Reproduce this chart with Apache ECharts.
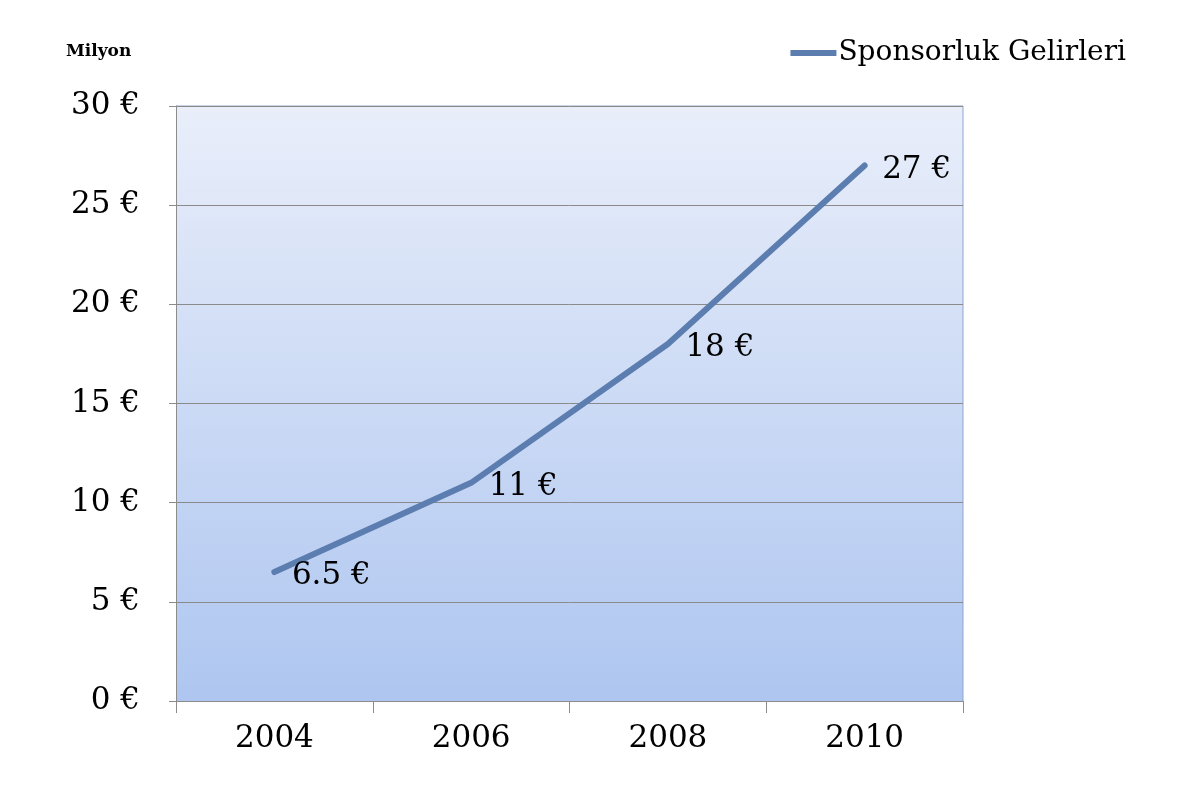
<!DOCTYPE html>
<html><head><meta charset="utf-8">
<script src="https://cdn.jsdelivr.net/npm/echarts@6/dist/echarts.min.js"></script>
<style>html,body{margin:0;padding:0;background:#fff}#c{width:1191px;height:804px}</style>
</head><body><div id="c"></div>
<script>
const categories = ['2004', '2006', '2008', '2010'];
const seriesName = 'Sponsorluk Gelirleri';
const values = [6.5, 11, 18, 27];
const unitLabel = 'Milyon';

const FONT = '"DejaVu Serif", serif';
const chart = echarts.init(document.getElementById('c'));
chart.setOption({
  backgroundColor: '#ffffff',
  animation: false,
  title: {
    text: unitLabel, left: 61, top: 38,
    textStyle: { fontFamily: FONT, fontSize: 17, fontWeight: 'bold', color: '#000' }
  },
  legend: {
    right: 60, top: 34,
    itemWidth: 46, itemHeight: 14, itemGap: 4,
    data: [{ name: seriesName, icon: 'path://M0,0 L46,0 L46,6 L0,6 Z', itemStyle: { color: '#5B7DAF', opacity: 1 } }],
    textStyle: { fontFamily: FONT, fontSize: 28, color: '#000', padding: [0,0,0,-3] }
  },
  grid: { left: 176, right: 228, top: 106, bottom: 103, show: true, borderWidth: 0,
    backgroundColor: new echarts.graphic.LinearGradient(0, 0, 0, 1, [
      { offset: 0, color: '#E9EEFA' }, { offset: 1, color: '#AEC6F0' }
    ]) },
  xAxis: {
    type: 'category', data: categories, boundaryGap: true,
    axisLine: { lineStyle: { color: '#8c8c8c', width: 1 } },
    axisTick: { show: true, length: 12, lineStyle: { color: '#8c8c8c' } },
    axisLabel: { fontFamily: FONT, fontSize: 31, color: '#000', margin: 22 },
    splitLine: { show: false }
  },
  yAxis: {
    type: 'value', min: 0, max: 30, interval: 5,
    axisLine: { show: true, lineStyle: { color: '#8c8c8c', width: 1 } },
    axisTick: { show: true, length: 7, lineStyle: { color: '#8c8c8c' } },
    axisLabel: { fontFamily: FONT, fontSize: 31, color: '#000', margin: 36, formatter: v => v + ' €' },
    splitLine: { show: true, lineStyle: { color: '#8a8a8a', width: 1 } }
  },
  series: [{
    name: seriesName, type: 'line', data: values,
    symbol: 'circle', symbolSize: 1, showSymbol: true, smooth: false,
    lineStyle: { color: '#5B7DAF', width: 6, cap: 'round' },
    itemStyle: { color: '#5B7DAF' },
    label: { show: true, position: 'right', distance: 17, offset: [0, 4],
      fontFamily: FONT, fontSize: 31, color: '#000', formatter: p => p.value + ' €' }
  }],
  graphic: [
    { type: 'line', shape: { x1: 176, y1: 106, x2: 963, y2: 106 }, style: { stroke: '#8FA6CF', lineWidth: 1 } },
    { type: 'line', shape: { x1: 963, y1: 106, x2: 963, y2: 701 }, style: { stroke: '#8FA6CF', lineWidth: 1 } }
  ]
});
</script></body></html>
